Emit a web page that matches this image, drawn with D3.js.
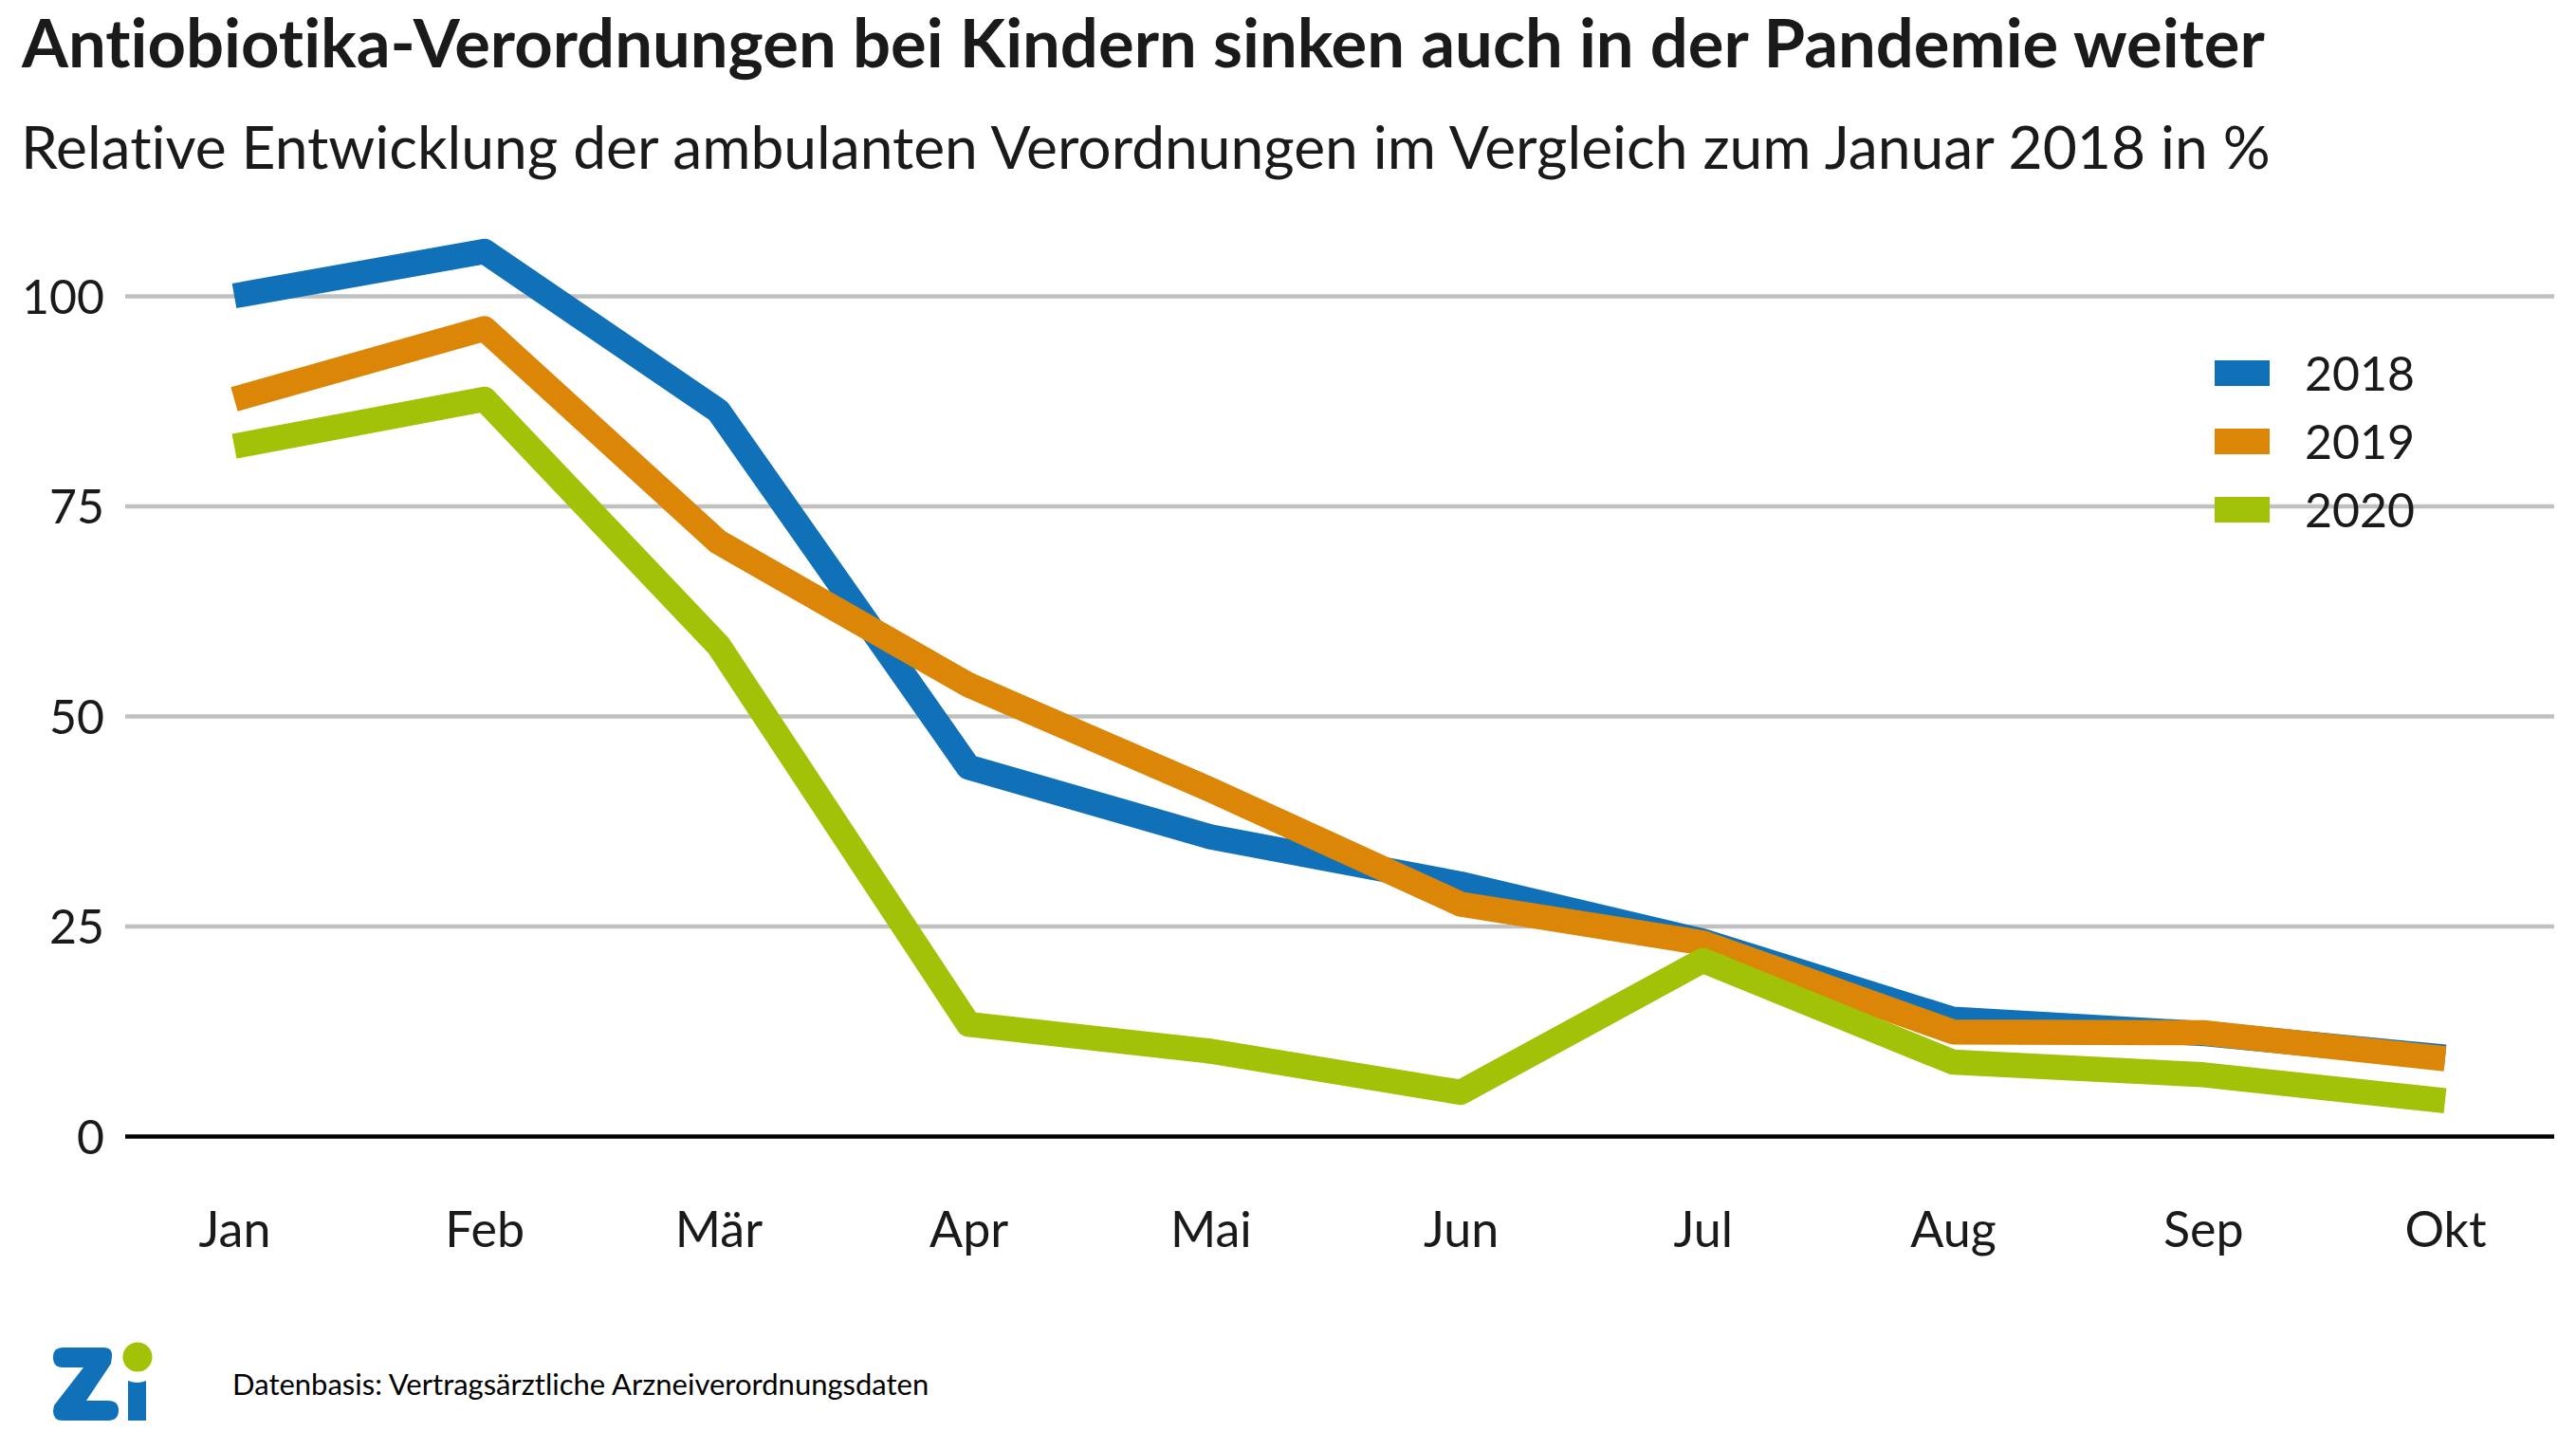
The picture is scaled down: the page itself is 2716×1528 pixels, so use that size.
<!DOCTYPE html>
<html lang="de">
<head>
<meta charset="utf-8">
<script src="https://cdn.jsdelivr.net/npm/d3@7"></script>
<style>
  html, body { margin: 0; padding: 0; background: #fff; }
  svg { display: block; }
  text { font-family: Lato, sans-serif; fill: #1a1a1a; font-variant-ligatures: none; }
</style>
</head>
<body>
<div id="dataviz"></div>
<script>
var months = ['Jan', 'Feb', 'Mär', 'Apr', 'Mai', 'Jun', 'Jul', 'Aug', 'Sep', 'Okt'];
var yTicks = [0, 25, 50, 75, 100];

var values2018 = [100, 105.3, 86.3, 43.9, 35.6, 30, 23.2, 13.9, 12.2, 9.4];
var values2019 = [87.7, 96.1, 70.7, 53.7, 41.2, 27.6, 23, 12.4, 12.3, 9.2];
var values2020 = [82.1, 87.7, 58.4, 13.3, 10.1, 5.2, 20.9, 8.8, 7.3, 4.2];

// axis runs on real dates, the month spacing in the original is uneven (leap year)
var dates = months.map(function(m, i) { return new Date(2020, i, 1); });

var series = [
  {name: '2018', values: values2018, color: '#1071b8'},
  {name: '2019', values: values2019, color: '#dc8608'},
  {name: '2020', values: values2020, color: '#a2c207'}
];

var svg = d3.select('#dataviz').append('svg')
  .attr('width', 2716)
  .attr('height', 1528);

svg.append('rect').attr('width', 2716).attr('height', 1528).attr('fill', '#fff');

var x = d3.scaleTime().domain([dates[0], dates[9]]).range([247, 2578]);
var y = d3.scaleLinear().domain([0, 100]).range([1198, 312]);

svg.append('text')
  .attr('x', 23).attr('y', 71)
  .style('font-size', '70.6px').style('font-weight', 700)
  .text('Antiobiotika-Verordnungen bei Kindern sinken auch in der Pandemie weiter');

svg.append('text')
  .attr('x', 22).attr('y', 178)
  .style('font-size', '62.3px')
  .text('Relative Entwicklung der ambulanten Verordnungen im Vergleich zum Januar 2018 in %');

var yAxis = svg.append('g')
  .attr('transform', 'translate(132,0)')
  .call(d3.axisLeft(y).tickValues(yTicks).tickSize(-(2693 - 132)).tickPadding(22));
yAxis.select('.domain').remove();
yAxis.selectAll('line')
  .attr('stroke', function(d) { return d === 0 ? '#000' : '#c0c0c0'; })
  .attr('stroke-width', 4.5);
yAxis.selectAll('text')
  .attr('dy', '0.36em')
  .style('font-size', '50px').style('font-family', 'Lato, sans-serif');

var xAxis = svg.append('g')
  .attr('transform', 'translate(0,1198)')
  .call(d3.axisBottom(x).tickValues(dates).tickSize(0).tickPadding(80)
    .tickFormat(function(d, i) { return months[i]; }));
xAxis.select('.domain').remove();
xAxis.selectAll('text').style('font-size', '52px').style('font-family', 'Lato, sans-serif');

var line = d3.line()
  .x(function(d, i) { return x(dates[i]); })
  .y(function(d) { return y(d); });

svg.selectAll('.series')
  .data(series)
  .enter().append('path')
  .attr('class', 'series')
  .attr('fill', 'none')
  .attr('stroke', function(d) { return d.color; })
  .attr('stroke-width', 26.5)
  .attr('stroke-linejoin', 'round')
  .attr('d', function(d) { return line(d.values); });

var legend = svg.selectAll('.legend')
  .data(series)
  .enter().append('g')
  .attr('class', 'legend')
  .attr('transform', function(d, i) { return 'translate(2335,' + (380 + i * 72) + ')'; });

legend.append('rect')
  .attr('width', 58)
  .attr('height', 27)
  .attr('fill', function(d) { return d.color; });

legend.append('text')
  .attr('x', 95)
  .attr('y', 32)
  .style('font-size', '50px')
  .text(function(d) { return d.name; });

// Zi logo
var logo = svg.append('g');
logo.append('path')
  .attr('fill', '#1071b8')
  .attr('d', 'M66,1421 L110,1421 Q119,1421 118,1431 L117,1438 L91,1477 L114,1477 Q125,1477 125,1487 Q125,1498 114,1498 L66,1498 Q56,1498 56,1488 L57,1482 L88,1442 L66,1442 Q56,1442 56,1431 Q56,1421 66,1421 Z');
logo.append('path')
  .attr('fill', '#1071b8')
  .attr('d', 'M135,1456 Q145,1460 154,1456 L154,1498 L135,1498 Z');
logo.append('circle')
  .attr('cx', 145).attr('cy', 1431).attr('r', 15.5)
  .attr('fill', '#a2c207');

svg.append('text')
  .attr('x', 245).attr('y', 1471)
  .style('font-size', '31px')
  .style('fill', '#000')
  .text('Datenbasis: Vertragsärztliche Arzneiverordnungsdaten');
</script>
</body>
</html>
